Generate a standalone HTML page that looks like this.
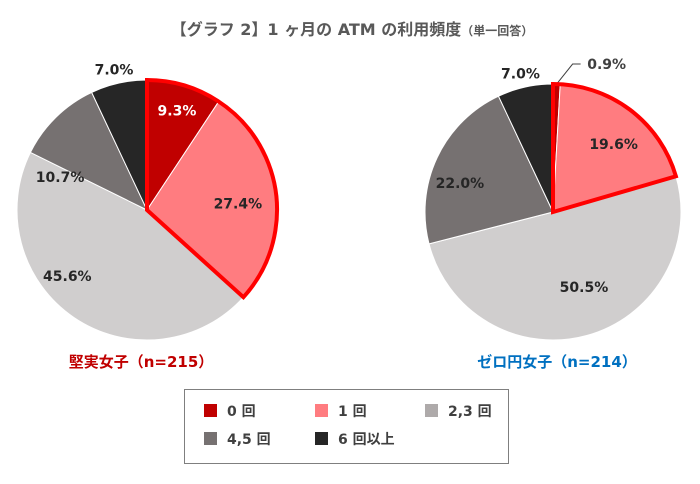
<!DOCTYPE html>
<html><head><meta charset="utf-8"><style>
body{margin:0;background:#fff;}
svg{display:block;font-family:"DejaVu Sans","Noto Sans CJK JP",sans-serif;}
</style></head><body>
<svg id="c" width="700" height="484" viewBox="0 0 700 484">
<text x="352" y="35" text-anchor="middle" font-size="16" font-weight="bold" fill="#595959">【グラフ 2】1 ヶ月の ATM の利用頻度<tspan font-size="12">（単一回答）</tspan></text>
<g id="pies"></g>
<text x="141" y="367" text-anchor="middle" font-size="15" font-weight="bold" fill="#c00000">堅実女子（n=215）</text>
<text x="557" y="367" text-anchor="middle" font-size="15" font-weight="bold" fill="#0070c0">ゼロ円女子（n=214）</text>
<rect x="184.5" y="389.5" width="324" height="74" fill="#fff" stroke="#7f7f7f" stroke-width="1"/>
<g id="legend" font-size="14" font-weight="bold" fill="#404040"></g>
</svg>
<script>
const categories=["0 回","1 回","2,3 回","4,5 回","6 回以上"];
const colors=["#c00000","#ff7c80","#d0cece","#767171","#262626"];
const seriesLeft=[9.3,27.4,45.6,10.7,7.0];
const seriesRight=[0.9,19.6,50.5,22.0,7.0];
const NS="http://www.w3.org/2000/svg";
const g=document.getElementById('pies');
function mk(t,a,p){const e=document.createElementNS(NS,t);for(const k in a)e.setAttribute(k,a[k]);(p||g).appendChild(e);return e;}
function pt(cx,cy,r,f){const a=f*2*Math.PI;return [cx+r*Math.sin(a),cy-r*Math.cos(a)];}
function drawPie(vals,cx,cy,r,name,labelOffsets,nudges){
  const tot=vals.reduce((a,b)=>a+b,0);let acc=0;
  vals.forEach((v,i)=>{
    const f0=acc/tot,f1=(acc+v)/tot;acc+=v;
    const p0=pt(cx,cy,r,f0),p1=pt(cx,cy,r,f1);
    const la=(f1-f0)>0.5?1:0;
    const s=mk('path',{d:`M${cx},${cy}L${p0[0]},${p0[1]}A${r},${r} 0 ${la} 1 ${p1[0]},${p1[1]}Z`,fill:colors[i],stroke:'#fff','stroke-width':1});
    
    
    const fm=(f0+f1)/2;let lp=pt(cx,cy,r*(labelOffsets[i]||0.68),fm);
    let lx=lp[0]+nudges[i][0],ly=lp[1]+nudges[i][1];
    if(v<3){const a=pt(cx,cy,r,fm);const e=[a[0]+16,a[1]-20];
      const ln=mk('polyline',{points:`${a[0]},${a[1]} ${e[0]},${e[1]} ${e[0]+8},${e[1]}`,fill:'none',stroke:'#404040','stroke-width':1});
      
      
      lx=e[0]+34;ly=e[1];}
    const t=mk('text',{x:lx,y:ly+5,'text-anchor':'middle','font-size':14,'font-weight':'bold',fill:i===0?'#fff':'#262626'});
    if(i===0&&v<3)t.setAttribute('fill','#404040');
    if(i===4){const q=pt(cx,cy,r+12,fm);t.setAttribute('x',q[0]-2);t.setAttribute('y',q[1]+3);}
    t.textContent=v.toFixed(1)+'%';
    
    
  });
  const f1=(vals[0]+vals[1])/tot;const p0=pt(cx,cy,r,0),p1=pt(cx,cy,r,f1);
  const o=mk('path',{d:`M${cx},${cy}L${p0[0]},${p0[1]}A${r},${r} 0 ${f1>0.5?1:0} 1 ${p1[0]},${p1[1]}Z`,fill:'none',stroke:'#ff0000','stroke-width':4,'stroke-linejoin':'miter'});
  
  
}
drawPie(seriesLeft,147,210,130,'pie-left',[0.8,0.72,0.68,0.68,0.7],[[0,0],[-2,5],[-30,-7],[-25,30],[0,0]]);
drawPie(seriesRight,553,212,128,'pie-right',[0.6,0.66,0.68,0.7,0.7],[[0,0],[8,-2],[8,-9],[-12,9],[0,0]]);
const lg=document.getElementById('legend');
const lpos=[[204,410],[315,410],[425,410],[204,438],[315,438]];
categories.forEach((c,i)=>{
  const r=mk('rect',{x:lpos[i][0],y:lpos[i][1]-6,width:13,height:13,fill:i===2?'#aeaaaa':colors[i]},lg);
  
  
  const t=mk('text',{x:lpos[i][0]+23,y:lpos[i][1]+6},lg);
  t.textContent=c;
  
  
});
</script>
</body></html>
